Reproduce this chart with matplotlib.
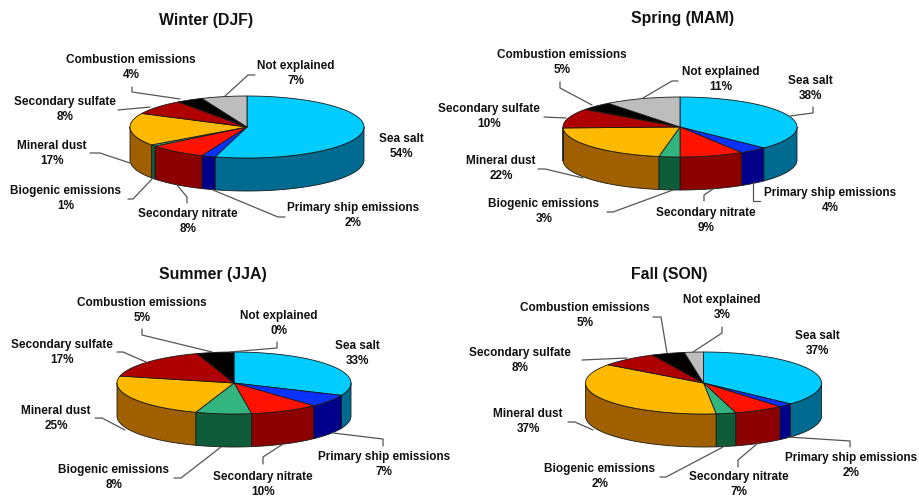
import numpy as np
import matplotlib
matplotlib.use("Agg")
import matplotlib.pyplot as plt
from matplotlib.patches import Polygon

plt.rcParams['font.family'] = ['Liberation Sans', 'DejaVu Sans']

# ---- data ----
categories = ["Sea salt", "Primary ship emissions", "Secondary nitrate", "Biogenic emissions",
              "Mineral dust", "Secondary sulfate", "Combustion emissions", "Not explained"]
# percentages printed on the labels
winter = [54, 2, 8, 1, 17, 8, 4, 7]
spring = [38, 4, 9, 3, 22, 10, 5, 11]
summer = [33, 7, 10, 8, 25, 17, 5, 0]
fall = [37, 2, 7, 2, 37, 8, 5, 3]
# slice shares (the printed labels are rounded)
winter_shares = [54.4, 1.9, 8.1, 0.8, 17.0, 7.8, 3.7, 6.3]
spring_shares = [37.3, 3.9, 8.8, 2.9, 21.6, 10.5, 4.5, 10.5]
summer_shares = [31.5, 6.6, 9.5, 7.7, 23.3, 16.3, 5.1, 0.0]
fall_shares = [36.8, 2.0, 6.8, 2.7, 36.7, 7.9, 4.5, 2.6]
titles = ["Winter (DJF)", "Spring (MAM)", "Summer (JJA)", "Fall (SON)"]

# ---- styles ----
top_colors = ["#00CCFF", "#0A32FF", "#FF1200", "#33B57F", "#FFBA00", "#AE0000", "#000000", "#BDBDBD"]
side_colors = ["#006B90", "#00008A", "#8C0000", "#0F5C3A", "#A06000", "#700000", "#000000", "#7A7A7A"]

# ---- layout (pixels): pie centre x, centre y, radii, depth ----
layouts = [
    dict(values=winter, shares=winter_shares, title=(206, 20), geom=(247, 127, 117, 31, 33),
         labels=[(401, 139), (353, 208), (188, 214), (66, 191), (52, 146), (65, 102), (131, 60), (296, 66)],
         leaders=[[(213, 190), (278, 217), (285, 217)], [(177, 185), (187, 197), (187, 203)],
                  [(153, 178), (133, 199), (128, 199)], [(130, 163), (100, 153), (90, 153)],
                  [(150, 107), (118, 110)], [(180, 99), (132, 92), (132, 87)],
                  [(224, 97), (248, 75), (255, 75)]]),
    dict(values=spring, shares=spring_shares, title=(683, 19), geom=(680, 127, 117, 30, 33),
         labels=[(810, 81), (830, 193), (706, 213), (544, 204), (501, 161), (489, 109), (562, 55), (721, 72)],
         leaders=[[(790, 116), (813, 113), (813, 107)], [(753, 182), (753, 201), (760, 201)],
                  [(713, 189), (704, 195), (704, 201)], [(673, 190), (613, 212), (607, 212)],
                  [(583, 178), (545, 169), (538, 169)], [(566, 118), (544, 117)],
                  [(592, 105), (560, 88), (560, 82)], [(643, 98), (672, 81), (678, 81)]]),
    dict(values=summer, shares=summer_shares, title=(213, 274), geom=(234, 383, 117, 31, 33),
         labels=[(357, 346), (384, 457), (263, 477), (114, 470), (56, 411), (62, 345), (142, 303), (279, 316)],
         leaders=[[(333, 433), (383, 439), (383, 446)], [(283, 444), (263, 457), (263, 464)],
                  [(221, 447), (181, 478), (174, 478)], [(125, 430), (102, 418), (95, 418)],
                  [(146, 362), (123, 352), (117, 352)], [(212, 352), (142, 335), (142, 329)],
                  [(230, 352), (277, 348), (277, 342)]]),
    dict(values=fall, shares=fall_shares, title=(669, 274), geom=(703.5, 383, 118, 31, 33),
         labels=[(817, 336), (851, 458), (739, 477), (600, 469), (528, 414), (520, 353), (585, 308), (722, 300)],
         leaders=[[(788, 437), (850, 441), (850, 447)], [(758, 443), (738, 460), (738, 467)],
                  [(725, 446), (666, 477), (660, 477)], [(593, 430), (575, 422), (568, 422)],
                  [(627, 358), (582, 360)], [(667, 353), (661, 317), (653, 317)],
                  [(693, 352), (722, 333), (722, 327)]]),
]

W, H = 919, 497
fig = plt.figure(figsize=(W / 100, H / 100), dpi=100, facecolor="white")
ax = fig.add_axes([0, 0, 1, 1])
ax.set_xlim(0, W)
ax.set_ylim(H, 0)
ax.axis("off")

EDGE = "#1a1a1a"
LW = 0.6


def arc(cx, cy, rx, ry, a0, a1, dy=0.0):
    t = np.radians(np.linspace(a0, a1, max(int(abs(a1 - a0) * 2), 2)))
    return np.column_stack([cx + rx * np.sin(t), cy + dy - ry * np.cos(t)])


def draw_pie(shares, geom):
    cx, cy, rx, ry, depth = geom
    v = np.asarray(shares, float)
    edges = np.concatenate([[0.0], np.cumsum(v / v.sum() * 360.0)])
    # side wall: only the front half (90..270 deg clockwise from 12 o'clock) is visible
    for i in range(len(v)):
        a0, a1 = max(edges[i], 90.0), min(edges[i + 1], 270.0)
        if a1 > a0:
            upper = arc(cx, cy, rx, ry, a0, a1)
            lower = arc(cx, cy, rx, ry, a0, a1, depth)[::-1]
            ax.add_patch(Polygon(np.vstack([upper, lower]), closed=True, fc=side_colors[i],
                                 ec=EDGE, lw=LW, joinstyle="round", zorder=2))
    # top face
    for i in range(len(v)):
        if v[i] > 0:
            pts = np.vstack([[cx, cy], arc(cx, cy, rx, ry, edges[i], edges[i + 1])])
            ax.add_patch(Polygon(pts, closed=True, fc=top_colors[i], ec=EDGE, lw=LW,
                                 joinstyle="round", zorder=3))


for lay in layouts:
    draw_pie(lay["shares"], lay["geom"])

for name, lay in zip(titles, layouts):
    ax.text(*lay["title"], name, ha="center", va="center", fontsize=11.4, fontweight="bold", color="#111111")
    for cat, val, (x, y) in zip(categories, lay["values"], lay["labels"]):
        ax.text(x, y, cat, ha="center", va="center", fontsize=8.5, fontweight="bold", color="#111111", zorder=5)
        ax.text(x, y + 15, f"{val}%", ha="center", va="center", fontsize=8.5, fontweight="bold", color="#111111", zorder=5)
    for seg in lay["leaders"]:
        xs, ys = zip(*seg)
        ax.plot(xs, ys, color="#555555", lw=0.9, zorder=4, solid_capstyle="round")

fig.savefig("out.png", dpi=100)
